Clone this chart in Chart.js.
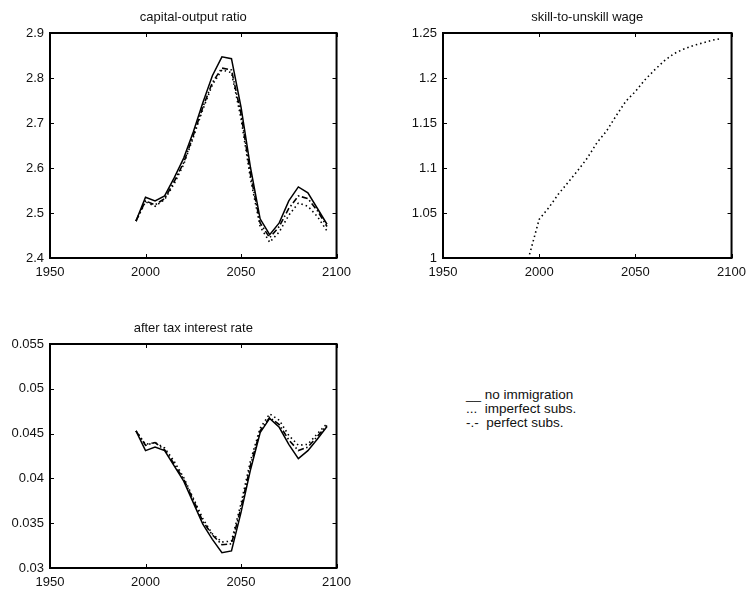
<!DOCTYPE html>
<html lang="en">
<head>
  <meta charset="UTF-8">
  <title>Immigration simulation</title>
  <script src="https://cdn.jsdelivr.net/npm/chart.js"></script>
  <style>
    body { margin: 0; background: #fff; }
    #page { position: relative; width: 749px; height: 595px; overflow: hidden; font-family: "Liberation Sans", Arial, sans-serif; }
    canvas { position: absolute; }
    #legendText { position: absolute; left: 466px; top: 388px; font-size: 13.5px; line-height: 14px; white-space: pre; color: #111; }
  </style>
</head>
<body>
  <div id="page">
    <canvas id="kyChart" width="358" height="290" style="left:0;top:0"></canvas>
    <canvas id="wageChart" width="360" height="290" style="left:393px;top:0"></canvas>
    <canvas id="rateChart" width="358" height="289" style="left:0;top:311px"></canvas>
    <div id="legendText">__ no immigration
...  imperfect subs.
-.-  perfect subs.</div>
  </div>

  <script>
    // years on the x axis (5-year steps)
    const years = [1995, 2000, 2005, 2010, 2015, 2020, 2025, 2030, 2035, 2040, 2045,
                   2050, 2055, 2060, 2065, 2070, 2075, 2080, 2085, 2090, 2095];
    const xTicks = [1950, 2000, 2050, 2100];

    // capital-output ratio
    const kyNoImm   = [2.482, 2.535, 2.527, 2.538, 2.578, 2.622, 2.680, 2.745, 2.805, 2.847, 2.843,
                       2.735, 2.600, 2.487, 2.452, 2.478, 2.527, 2.558, 2.545, 2.510, 2.475];
    const kyImperf  = [2.482, 2.525, 2.515, 2.530, 2.565, 2.608, 2.668, 2.730, 2.785, 2.818, 2.812,
                       2.710, 2.575, 2.470, 2.435, 2.458, 2.495, 2.522, 2.515, 2.492, 2.460];
    const kyPerf    = [2.482, 2.527, 2.518, 2.532, 2.570, 2.612, 2.672, 2.735, 2.790, 2.822, 2.818,
                       2.720, 2.585, 2.478, 2.445, 2.470, 2.510, 2.538, 2.532, 2.505, 2.470];
    const kyTicks   = [2.4, 2.5, 2.6, 2.7, 2.8, 2.9];

    // skill-to-unskill wage
    const wageNoImm  = [1, 1, 1, 1, 1, 1, 1, 1, 1, 1, 1, 1, 1, 1, 1, 1, 1, 1, 1, 1, 1];
    const wageImperf = [1.004, 1.043, 1.056, 1.071, 1.084, 1.097, 1.111, 1.128, 1.141, 1.158, 1.174,
                        1.185, 1.198, 1.209, 1.219, 1.227, 1.232, 1.236, 1.239, 1.242, 1.244];
    const wagePerf   = [1, 1, 1, 1, 1, 1, 1, 1, 1, 1, 1, 1, 1, 1, 1, 1, 1, 1, 1, 1, 1];
    const wageTicks  = [1, 1.05, 1.1, 1.15, 1.2, 1.25];

    // after tax interest rate
    const rateNoImm  = [0.0453, 0.0431, 0.0435, 0.0431, 0.0414, 0.0397, 0.0373, 0.0349, 0.0332, 0.0317, 0.0319,
                        0.0362, 0.0410, 0.0451, 0.0467, 0.0457, 0.0438, 0.0422, 0.0431, 0.0444, 0.0458];
    const rateImperf = [0.0453, 0.0438, 0.0440, 0.0434, 0.0419, 0.0401, 0.0378, 0.0355, 0.0338, 0.0329, 0.0330,
                        0.0372, 0.0420, 0.0456, 0.0472, 0.0465, 0.0448, 0.0437, 0.0438, 0.0450, 0.0461];
    const ratePerf   = [0.0453, 0.0437, 0.0440, 0.0432, 0.0416, 0.0399, 0.0376, 0.0352, 0.0337, 0.0326, 0.0327,
                        0.0367, 0.0415, 0.0453, 0.0468, 0.0460, 0.0443, 0.0431, 0.0435, 0.0447, 0.0459];
    const rateTicks  = [0.03, 0.035, 0.04, 0.045, 0.05, 0.055];

    const FONT = '"Liberation Sans", Arial, sans-serif';

    // MATLAB style box with inward ticks on all four sides
    const boxPlugin = {
      id: 'box',
      afterDraw(chart) {
        const { ctx, chartArea: a, scales } = chart;
        ctx.save();
        ctx.strokeStyle = '#000';
        ctx.lineWidth = 1;
        const len = 4;
        ctx.beginPath();
        scales.x.ticks.forEach(t => {
          const px = Math.round(scales.x.getPixelForValue(t.value)) + 0.5;
          ctx.moveTo(px, a.bottom); ctx.lineTo(px, a.bottom - len);
          ctx.moveTo(px, a.top); ctx.lineTo(px, a.top + len);
        });
        scales.y.ticks.forEach(t => {
          const py = Math.round(scales.y.getPixelForValue(t.value)) + 0.5;
          ctx.moveTo(a.left, py); ctx.lineTo(a.left + len, py);
          ctx.moveTo(a.right, py); ctx.lineTo(a.right - len, py);
        });
        ctx.stroke();
        ctx.lineWidth = 2;
        ctx.strokeRect(a.left, a.top, a.right - a.left, a.bottom - a.top);
        ctx.restore();
      }
    };

    function series(vals, style) {
      const dash = style === 'dot' ? [1.5, 3] : style === 'dashdot' ? [6, 2.5, 1.5, 2.5] : [];
      return {
        data: years.map((x, i) => ({ x: x, y: vals[i] })),
        borderColor: '#000',
        borderWidth: style === 'solid' ? 1.5 : 1.6,
        borderDash: dash,
        pointRadius: 0,
        tension: 0,
        fill: false
      };
    }

    function makeChart(id, title, lines, yTicks) {
      return new Chart(document.getElementById(id), {
        type: 'line',
        data: { datasets: lines },
        plugins: [boxPlugin],
        options: {
          responsive: false,
          animation: false,
          devicePixelRatio: 1,
          layout: { padding: { left: 0, right: 20, top: 0, bottom: 0 } },
          plugins: {
            legend: { display: false },
            tooltip: { enabled: false },
            title: {
              display: true,
              fullSize: false,
              text: title,
              color: '#111',
              font: { family: FONT, size: 13, weight: 'normal', lineHeight: 1.2 },
              padding: { top: 10, bottom: 7.4 }
            }
          },
          scales: {
            x: {
              type: 'linear',
              min: xTicks[0],
              max: xTicks[xTicks.length - 1],
              grid: { display: false, tickLength: 0 },
              border: { display: false },
              afterBuildTicks: s => { s.ticks = xTicks.map(v => ({ value: v })); },
              afterFit: s => { s.height = 32; },
              ticks: {
                color: '#111',
                padding: 7,
                maxRotation: 0,
                font: { family: FONT, size: 13 },
                callback: v => String(v)
              }
            },
            y: {
              min: yTicks[0],
              max: yTicks[yTicks.length - 1],
              grid: { display: false, tickLength: 0 },
              border: { display: false },
              afterBuildTicks: s => { s.ticks = yTicks.map(v => ({ value: v })); },
              afterFit: s => { s.width = 50; },
              ticks: {
                color: '#111',
                padding: 6,
                font: { family: FONT, size: 13 },
                callback: v => String(v)
              }
            }
          }
        }
      });
    }

    makeChart('kyChart', 'capital-output ratio',
      [series(kyNoImm, 'solid'), series(kyImperf, 'dot'), series(kyPerf, 'dashdot')], kyTicks);
    makeChart('wageChart', 'skill-to-unskill wage',
      [series(wageNoImm, 'solid'), series(wageImperf, 'dot'), series(wagePerf, 'dashdot')], wageTicks);
    makeChart('rateChart', 'after tax interest rate',
      [series(rateNoImm, 'solid'), series(rateImperf, 'dot'), series(ratePerf, 'dashdot')], rateTicks);
  </script>
</body>
</html>
